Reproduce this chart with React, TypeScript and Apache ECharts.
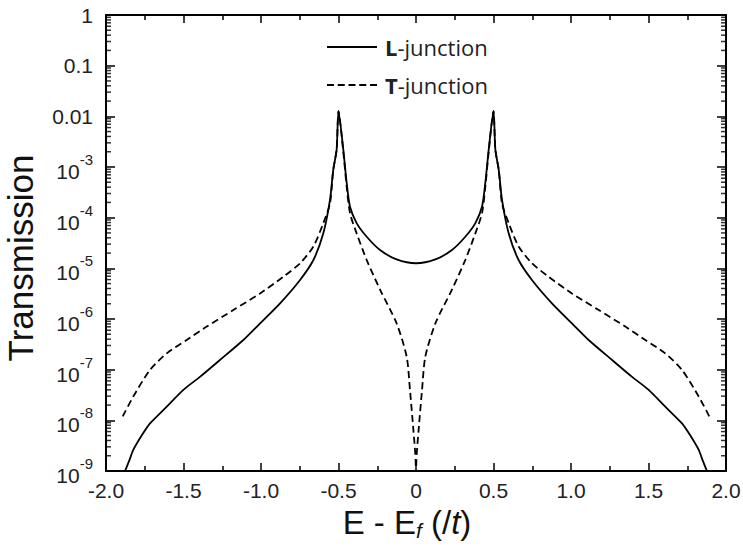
import React, { useEffect, useRef } from "react";
import * as echarts from "echarts";

// L-junction (solid)
const lX = [-1.877, -1.85, -1.824, -1.77, -1.716, -1.608, -1.501, -1.394, -1.265, -1.114, -1.006, -0.877, -0.748, -0.662, -0.598, -0.555, -0.534, -0.512, -0.5, -0.469, -0.447, -0.426, -0.383, -0.318, -0.232, -0.125, 0, 0.125, 0.232, 0.318, 0.383, 0.426, 0.447, 0.469, 0.5, 0.512, 0.534, 0.555, 0.598, 0.662, 0.748, 0.877, 1.006, 1.114, 1.265, 1.394, 1.501, 1.608, 1.716, 1.77, 1.824, 1.85, 1.877];
const lY = [1e-9, 1.6e-9, 2.6e-9, 5e-9, 8.7e-9, 1.86e-8, 4.0e-8, 7.2e-8, 1.55e-7, 3.85e-7, 8.2e-7, 2.04e-6, 5.9e-6, 1.46e-5, 4.9e-5, 2.24e-4, 8.7e-4, 2.2e-3, 1.27e-2, 2.2e-3, 4.8e-4, 1.66e-4, 7.8e-5, 4.2e-5, 2.3e-5, 1.5e-5, 1.26e-5, 1.5e-5, 2.3e-5, 4.2e-5, 7.8e-5, 1.66e-4, 4.8e-4, 2.2e-3, 1.27e-2, 2.2e-3, 8.7e-4, 2.24e-4, 4.9e-5, 1.46e-5, 5.9e-6, 2.04e-6, 8.2e-7, 3.85e-7, 1.55e-7, 7.2e-8, 4.0e-8, 1.86e-8, 8.7e-9, 5e-9, 2.6e-9, 1.6e-9, 1e-9];

// T-junction (dashed)
const tX = [-1.892, -1.824, -1.716, -1.608, -1.48, -1.35, -1.179, -1.006, -0.856, -0.748, -0.662, -0.598, -0.555, -0.534, -0.512, -0.5, -0.469, -0.447, -0.426, -0.383, -0.318, -0.232, -0.125, -0.06, -0.039, -0.017, -0.002, 0, 0.002, 0.017, 0.039, 0.06, 0.125, 0.232, 0.318, 0.383, 0.426, 0.447, 0.469, 0.5, 0.512, 0.534, 0.555, 0.598, 0.662, 0.748, 0.856, 1.006, 1.179, 1.35, 1.48, 1.608, 1.716, 1.824, 1.892];
const tY = [1.2e-8, 2.95e-8, 9.9e-8, 2.1e-7, 3.85e-7, 7.1e-7, 1.5e-6, 3.2e-6, 6.8e-6, 1.26e-5, 2.7e-5, 7.8e-5, 1.9e-4, 8.7e-4, 2.2e-3, 1.27e-2, 2.0e-3, 4e-4, 1.23e-4, 4.9e-5, 1.46e-5, 3.8e-6, 8.2e-7, 1.8e-7, 4e-8, 6.5e-9, 1.45e-9, 1e-11, 1.45e-9, 6.5e-9, 4e-8, 1.8e-7, 8.2e-7, 3.8e-6, 1.46e-5, 4.9e-5, 1.23e-4, 4e-4, 2.0e-3, 1.27e-2, 2.2e-3, 8.7e-4, 1.9e-4, 7.8e-5, 2.7e-5, 1.26e-5, 6.8e-6, 3.2e-6, 1.5e-6, 7.1e-7, 3.85e-7, 2.1e-7, 9.9e-8, 2.95e-8, 1.2e-8];

const xTickLabels = ["-2.0", "-1.5", "-1.0", "-0.5", "0", "0.5", "1.0", "1.5", "2.0"];
const yTickExponents = [0, -1, -2, -3, -4, -5, -6, -7, -8, -9];
const yPlainLabels: Record<string, string> = { "0": "1", "-1": "0.1", "-2": "0.01" };
const minorMultipliers = [2, 3, 4, 5, 6, 7, 8, 9];

const seriesNames = ["L-junction", "T-junction"];

const X_MIN = -2;
const X_MAX = 2;

const SOLID_ICON = "path://M0,0H50V1.8H0Z";
const DASH_ICON = "path://M0,0H7V1.8H0Z M10.75,0H17.75V1.8H10.75Z M21.5,0H28.5V1.8H21.5Z M32.25,0H39.25V1.8H32.25Z M43,0H50V1.8H43Z";

export default function App() {
  const ref = useRef<HTMLDivElement>(null);
  useEffect(() => {
    if (!ref.current) return;
    const chart = echarts.init(ref.current, null, { renderer: "svg" });
    const font = "Liberation Sans, Arial, sans-serif";
    const lData = lX.map((x, i) => [x, lY[i]]);
    const tData = tX.map((x, i) => [x, tY[i]]);
    const minorLeft: number[][] = [];
    const minorRight: number[][] = [];
    yTickExponents.forEach((e) => {
      if (e === 0) return;
      minorMultipliers.forEach((m) => {
        const v = m * Math.pow(10, e);
        minorLeft.push([X_MIN, v]);
        minorRight.push([X_MAX, v]);
      });
    });

    const yLabelFormatter = (v: number) => {
      const e = Math.round(Math.log10(v));
      const key = String(e);
      if (yPlainLabels[key] !== undefined) return `{p|${yPlainLabels[key]}}`;
      return `{b|10}{s|${e}}`;
    };
    const xLabelFormatter = (v: number) => {
      const idx = Math.round((v - X_MIN) / 0.5);
      return xTickLabels[idx] ?? String(v);
    };

    const axisLine = { show: true, onZero: false, lineStyle: { color: "#000", width: 2 } };
    const minorTickSeries = (data: number[][], offset: number) => ({
      type: "scatter",
      xAxisIndex: 0,
      yAxisIndex: 0,
      silent: true,
      clip: false,
      data,
      symbol: "rect",
      symbolSize: [5, 1.5],
      symbolOffset: [offset, 0],
      itemStyle: { color: "#000" },
      z: 5,
    });

    const option: any = {
      animation: false,
      backgroundColor: "#fff",
      grid: { left: 106, right: 17, top: 15, bottom: 83, containLabel: false, outerBoundsMode: "none" },
      legend: {
        data: [
          { name: seriesNames[0], icon: SOLID_ICON },
          { name: seriesNames[1], icon: DASH_ICON },
        ],
        orient: "vertical",
        left: 327,
        top: 34,
        padding: 0,
        itemWidth: 50,
        itemHeight: 2,
        itemGap: 12,
        itemStyle: { color: "#000", borderWidth: 0 },
        textStyle: {
          fontFamily: "Open Sans",
          fontSize: 22,
          lineHeight: 26,
          color: "#222",
          padding: [0, 0, 0, 3],
          rich: {
            bb: { fontFamily: "Open Sans", fontSize: 22, lineHeight: 26, fontWeight: "bold", color: "#222" },
            nn: { fontFamily: "Open Sans", fontSize: 22, lineHeight: 26, color: "#222" },
          },
        },
        formatter: (name: string) => `{bb|${name.charAt(0)}}{nn|${name.slice(1)}}`,
      },
      xAxis: [
        {
          type: "value",
          min: X_MIN,
          max: X_MAX,
          interval: 0.5,
          position: "bottom",
          axisLine,
          axisTick: { show: true, inside: true, length: 8, lineStyle: { color: "#000", width: 1.5 } },
          minorTick: { show: true, splitNumber: 2, length: 5, lineStyle: { color: "#000", width: 1.5 } },
          splitLine: { show: false },
          axisLabel: { margin: 9, fontFamily: font, fontSize: 21, color: "#222", formatter: xLabelFormatter },
          name: "{a|E - E}{sub|f}{a| (/}{it|t}{a|)}",
          nameLocation: "middle",
          nameGap: 33,
          nameTextStyle: {
            padding: [0, 18, 0, 0],
            rich: {
              a: { fontFamily: font, fontSize: 33, color: "#111" },
              sub: { fontFamily: font, fontSize: 21, fontStyle: "italic", color: "#111", verticalAlign: "bottom", padding: [0, 0, -2, 0] },
              it: { fontFamily: font, fontSize: 33, fontStyle: "italic", color: "#111" },
            },
          },
        },
        {
          type: "value",
          min: X_MIN,
          max: X_MAX,
          interval: 0.5,
          position: "top",
          axisLine,
          axisTick: { show: true, inside: true, length: 8, lineStyle: { color: "#000", width: 1.5 } },
          minorTick: { show: true, splitNumber: 2, length: 5, lineStyle: { color: "#000", width: 1.5 } },
          splitLine: { show: false },
          axisLabel: { show: false },
        },
      ],
      yAxis: [
        {
          type: "log",
          logBase: 10,
          min: 1e-9,
          max: 1,
          interval: 1,
          position: "left",
          axisLine,
          axisTick: { show: true, inside: true, length: 9, lineStyle: { color: "#000", width: 1.5 } },
          splitLine: { show: false },
          axisLabel: {
            margin: 13,
            formatter: yLabelFormatter,
            rich: {
              p: { fontFamily: font, fontSize: 21, color: "#222" },
              b: { fontFamily: font, fontSize: 21, color: "#222", lineHeight: 30, verticalAlign: "bottom" },
              s: { fontFamily: font, fontSize: 15, color: "#222", lineHeight: 16, verticalAlign: "top" },
            },
          },
          name: "Transmission",
          nameLocation: "middle",
          nameGap: 68,
          nameTextStyle: { fontFamily: font, fontSize: 35, lineHeight: 35, color: "#111", padding: [0, 0, 0, -30] },
        },
        {
          type: "log",
          logBase: 10,
          min: 1e-9,
          max: 1,
          interval: 1,
          position: "right",
          axisLine,
          axisTick: { show: true, inside: true, length: 9, lineStyle: { color: "#000", width: 1.5 } },
          splitLine: { show: false },
          axisLabel: { show: false },
        },
      ],
      series: [
        {
          name: seriesNames[0],
          type: "line",
          xAxisIndex: 0,
          yAxisIndex: 0,
          data: lData,
          showSymbol: false,
          symbol: "none",
          smooth: 0.25,
          lineStyle: { color: "#000", width: 1.8, type: "solid" },
          itemStyle: { color: "#000" },
          clip: true,
        },
        {
          name: seriesNames[1],
          type: "line",
          xAxisIndex: 0,
          yAxisIndex: 0,
          data: tData,
          showSymbol: false,
          symbol: "none",
          smooth: 0.25,
          lineStyle: { color: "#000", width: 1.8, type: [7, 4] },
          itemStyle: { color: "#000" },
          clip: true,
        },
        minorTickSeries(minorLeft, 2.5),
        minorTickSeries(minorRight, -2.5),
      ],
    };
    chart.setOption(option);
    return () => chart.dispose();
  }, []);
  return <div ref={ref} style={{ position: "absolute", left: 0, top: 0, width: 743, height: 554 }} />;
}
